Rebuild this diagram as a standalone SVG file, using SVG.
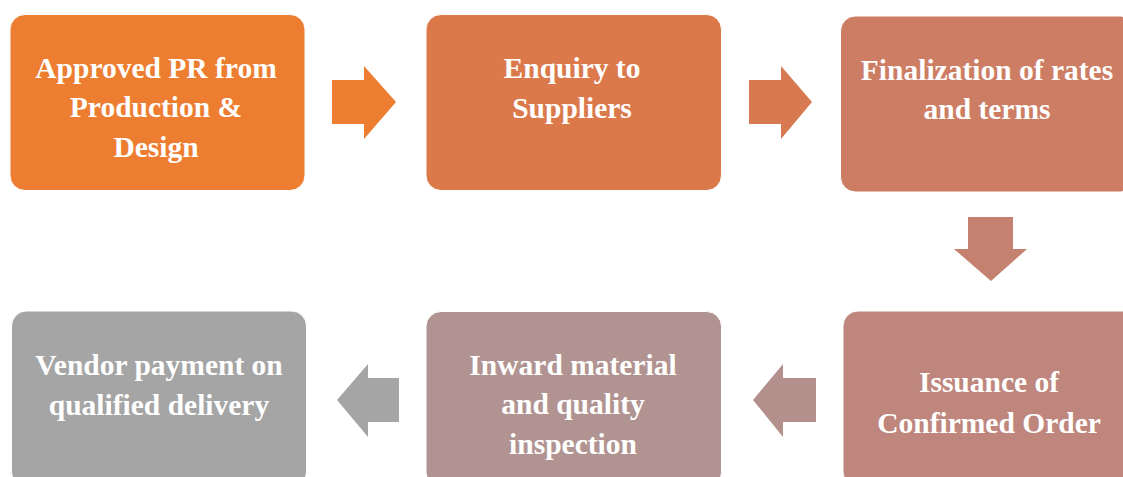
<svg xmlns="http://www.w3.org/2000/svg" width="1123" height="477" viewBox="0 0 1123 477">
<style>
.box{stroke:#ffffff;stroke-width:1}
.t{font-family:"Liberation Serif","Times New Roman",serif;font-weight:bold;font-size:29.5px;fill:#ffffff;text-anchor:middle}
</style>
<rect width="1123" height="477" fill="#ffffff"/>
<g id="connectors">
<polygon points="332,80 364,80 364,66 396,102 364,139 364,124 332,124" fill="#ED7D31"/>
<polygon points="749,80 781,80 781,66 812,102 781,139 781,124 749,124" fill="#D87A51"/>
<polygon points="968,217 1013,217 1013,249 1027,249 991,281 954,249 968,249" fill="#C58170"/>
<polygon points="816,378 783,378 783,364 753,400 783,437 783,422 816,422" fill="#B4908C"/>
<polygon points="399,378 368,378 368,364 337,400 368,437 368,422 399,422" fill="#A5A5A5"/>
</g>
<g id="n1">
<rect class="box" x="10" y="14.5" width="295" height="176" rx="15" fill="#ED7D31"/>
<text class="t" x="156" y="78">Approved PR from</text>
<text class="t" x="156" y="117">Production &amp;</text>
<text class="t" x="156" y="157">Design</text>
</g>
<g id="n2">
<rect class="box" x="426" y="14.5" width="295.5" height="176" rx="15" fill="#DB794B"/>
<text class="t" x="572" y="78">Enquiry to</text>
<text class="t" x="572" y="118">Suppliers</text>
</g>
<g id="n3">
<rect class="box" x="840.5" y="16" width="295" height="176" rx="15" fill="#CC7D64"/>
<text class="t" x="987" y="80">Finalization of rates</text>
<text class="t" x="987" y="119">and terms</text>
</g>
<g id="n4">
<rect class="box" x="843" y="311" width="295" height="176" rx="15" fill="#BE867C"/>
<text class="t" x="989" y="392">Issuance of</text>
<text class="t" x="989" y="433">Confirmed Order</text>
</g>
<g id="n5">
<rect class="box" x="426" y="311.5" width="295.5" height="176" rx="15" fill="#B19491"/>
<text class="t" x="573" y="375">Inward material</text>
<text class="t" x="573" y="414">and quality</text>
<text class="t" x="573" y="454">inspection</text>
</g>
<g id="n6">
<rect class="box" x="11.5" y="311" width="295" height="176" rx="15" fill="#A5A5A5"/>
<text class="t" x="159" y="375">Vendor payment on</text>
<text class="t" x="159" y="415">qualified delivery</text>
</g>
</svg>
